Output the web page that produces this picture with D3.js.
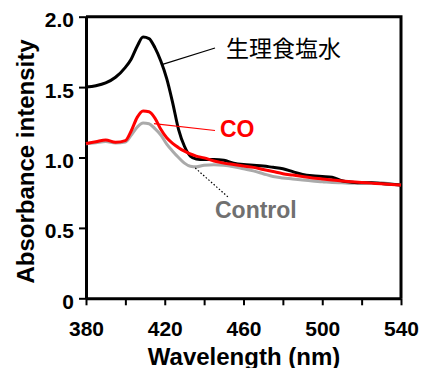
<!DOCTYPE html>
<html>
<head>
<meta charset="utf-8">
<script src="https://d3js.org/d3.v7.min.js"></script>
<style>
  body { margin: 0; background: #fff; }
  text { font-family: "Liberation Sans", Arial, sans-serif; }
</style>
</head>
<body>
<div id="chart"></div>
<script>
// wavelengths (nm) shared by all series
const wavelengths = [380, 385, 390, 395, 400, 403, 406, 409, 412, 415, 418, 421, 424, 427, 430, 433, 436, 440,
  445, 450, 455, 460, 465, 470, 475, 480, 485, 490, 495, 500, 505, 510, 515, 520, 525, 530, 535, 540];

const saline = [1.50, 1.51, 1.53, 1.57, 1.64, 1.70, 1.79, 1.855, 1.845, 1.78, 1.685, 1.56, 1.39, 1.20, 1.08, 1.01, 0.99, 0.985,
  0.985, 0.98, 0.96, 0.95, 0.945, 0.94, 0.93, 0.92, 0.90, 0.88, 0.87, 0.865, 0.86, 0.835, 0.825, 0.82, 0.82, 0.815, 0.81, 0.805];

const co = [1.10, 1.112, 1.125, 1.108, 1.12, 1.19, 1.285, 1.33, 1.325, 1.28, 1.20, 1.14, 1.10, 1.07, 1.045, 1.025, 1.01, 0.997,
  0.975, 0.96, 0.95, 0.94, 0.93, 0.915, 0.90, 0.885, 0.875, 0.865, 0.855, 0.848, 0.84, 0.833, 0.828, 0.823, 0.818, 0.813, 0.809, 0.805];

const control = [1.097, 1.105, 1.113, 1.103, 1.11, 1.16, 1.215, 1.245, 1.24, 1.205, 1.16, 1.095, 1.045, 1.00, 0.96, 0.938, 0.934, 0.945,
  0.948, 0.945, 0.935, 0.92, 0.905, 0.885, 0.865, 0.855, 0.848, 0.84, 0.833, 0.828, 0.822, 0.82, 0.818, 0.818, 0.82, 0.82, 0.812, 0.805];

const xTicks = [380, 400, 420, 440, 460, 480, 500, 520, 540];
const xTickLabels = [380, 420, 460, 500, 540];
const yTicks = [0, 0.5, 1.0, 1.5, 2.0];

const width = 423, height = 368;
const margin = { left: 86, right: 22, top: 16.7, bottom: 69.7 };

const svg = d3.select("#chart").append("svg")
  .attr("width", width)
  .attr("height", height);

const x = d3.scaleLinear().domain([380, 540]).range([margin.left, width - margin.right]);
const y = d3.scaleLinear().domain([0, 2]).range([height - margin.bottom, margin.top]);

// frame (top + right)
svg.append("path")
  .attr("d", `M${x(380)},${y(2)}H${x(540)}V${y(0)}`)
  .attr("fill", "none")
  .attr("stroke", "#000")
  .attr("stroke-width", 3);

// x axis
const xAxis = svg.append("g")
  .attr("transform", `translate(0,${y(0)})`)
  .call(d3.axisBottom(x).tickValues(xTicks).tickSize(7).tickSizeOuter(0)
    .tickFormat(d => xTickLabels.includes(d) ? d : ""));
xAxis.select(".domain").attr("stroke-width", 3);
xAxis.selectAll(".tick line").attr("stroke-width", 2);
xAxis.selectAll(".tick text")
  .attr("y", 0).attr("dy", 0)
  .attr("transform", "translate(0,38)")
  .style("font-size", "21px").style("font-weight", "bold").attr("fill", "#000");

// y axis
const yAxis = svg.append("g")
  .attr("transform", `translate(${x(380)},0)`)
  .call(d3.axisLeft(y).tickValues(yTicks).tickSize(7).tickSizeOuter(0)
    .tickFormat(d => d === 0 ? "0" : d3.format(".1f")(d)));
yAxis.select(".domain").attr("stroke-width", 3);
yAxis.selectAll(".tick line").attr("stroke-width", 2);
yAxis.selectAll(".tick text")
  .attr("x", -12).attr("dy", 10)
  .style("font-size", "21px").style("font-weight", "bold").attr("fill", "#000");

// axis titles
svg.append("text")
  .attr("x", 244).attr("y", 365)
  .attr("text-anchor", "middle")
  .style("font-size", "24px").style("font-weight", "bold")
  .text("Wavelength (nm)");

svg.append("text")
  .attr("transform", "translate(34,161.5) rotate(-90)")
  .attr("text-anchor", "middle")
  .style("font-size", "24px").style("font-weight", "bold")
  .text("Absorbance intensity");

// curves
const line = d3.line()
  .x((d, i) => x(wavelengths[i]))
  .y(d => y(d))
  .curve(d3.curveMonotoneX);

const series = [
  { values: control, color: "#aaaaaa" },
  { values: saline, color: "#000000" },
  { values: co, color: "#ff0000" }
];

svg.selectAll(".series")
  .data(series)
  .enter()
  .append("path")
  .attr("class", "series")
  .attr("d", d => line(d.values))
  .attr("fill", "none")
  .attr("stroke", d => d.color)
  .attr("stroke-width", 3)
  .attr("stroke-linejoin", "round");

// labels with leader lines
svg.append("line")
  .attr("x1", x(418.5)).attr("y1", y(1.66)).attr("x2", 215).attr("y2", 48)
  .attr("stroke", "#000").attr("stroke-width", 1.2);
svg.append("text")
  .attr("x", 226).attr("y", 56.5)
  .style("font-family", "'Noto Sans CJK JP', sans-serif")
  .style("font-size", "23px")
  .text("生理食塩水");

svg.append("line")
  .attr("x1", x(414.5)).attr("y1", y(1.24)).attr("x2", 215).attr("y2", 130.5)
  .attr("stroke", "#ff0000").attr("stroke-width", 1.2);
svg.append("text")
  .attr("x", 220).attr("y", 136.7)
  .style("font-size", "23px").style("font-weight", "bold")
  .attr("fill", "#ff0000")
  .text("CO");

svg.append("line")
  .attr("x1", x(435.5)).attr("y1", y(0.925)).attr("x2", 228).attr("y2", 197)
  .attr("stroke", "#000").attr("stroke-width", 1.2)
  .attr("stroke-dasharray", "1.5,2");
svg.append("text")
  .attr("x", 215).attr("y", 217.7)
  .style("font-size", "23px").style("font-weight", "bold")
  .attr("fill", "#707070")
  .text("Control");
</script>
</body>
</html>
